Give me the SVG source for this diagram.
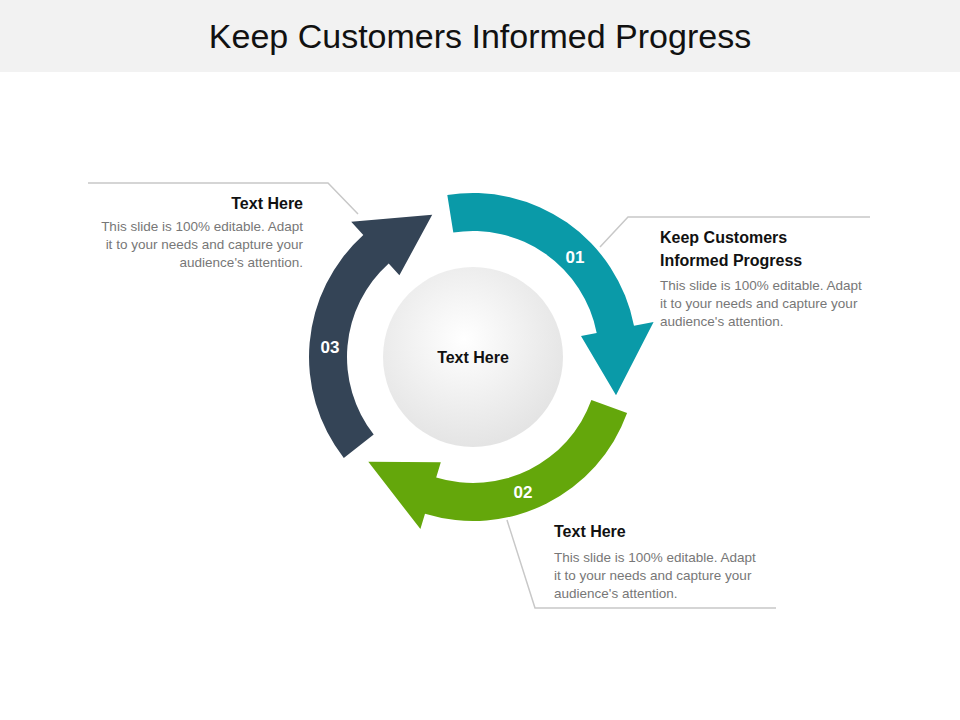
<svg xmlns="http://www.w3.org/2000/svg" width="960" height="720" viewBox="0 0 960 720">
<defs>
<radialGradient id="cg" cx="0.45" cy="0.4" r="0.6"><stop offset="0" stop-color="#ffffff"/><stop offset="1" stop-color="#e4e4e4"/></radialGradient>
<style>
.h{font-family:"Liberation Sans",Arial,sans-serif;font-weight:bold;font-size:16px;fill:#111}
.b{font-family:"Liberation Sans",Arial,sans-serif;font-size:13.5px;fill:#777}
.n{font-family:"Liberation Sans",Arial,sans-serif;font-weight:bold;font-size:17px;fill:#fff;text-anchor:middle}
.ln{fill:none;stroke:#c8c8c8;stroke-width:1.5}
</style>
</defs>
<rect width="960" height="720" fill="#fff"/>
<rect width="960" height="72" fill="#f2f2f2"/>
<text x="480" y="48" text-anchor="middle" font-family="Liberation Sans,Arial,sans-serif" font-size="34" fill="#111">Keep Customers Informed Progress</text>
<g id="connectors">
<polyline class="ln" points="88,183 328,183 358,214"/>
<polyline class="ln" points="600,247 628,217 870,217"/>
<polyline class="ln" points="507,520 535,608 776,608"/>
</g>
<g id="center">
<circle cx="473" cy="357" r="90" fill="url(#cg)"/>
<text x="473" y="363" text-anchor="middle" class="h">Text Here</text>
</g>
<g id="arrow01">
<path d="M447.3,195 A164,164 0 0 1 634,325.7 L653.6,321.9 L616,395.3 L581,336 L596.7,333 A126,126 0 0 0 453.3,232.5 Z" fill="#0a9aa8"/>
<text x="575" y="263" class="n">01</text>
</g>
<g id="arrow02">
<path d="M627.1,413.1 A164,164 0 0 1 425,513.8 L420.4,529.1 L368.3,461.7 L440.8,462.2 L436.2,477.5 A126,126 0 0 0 591.4,400.1 Z" fill="#64a70b"/>
<text x="523" y="498" class="n">02</text>
</g>
<g id="arrow03">
<path d="M343.8,458 A164,164 0 0 1 363.3,235.1 L351.2,221.8 L432.2,214.7 L399.4,275.3 L388.7,263.4 A126,126 0 0 0 373.7,434.6 Z" fill="#344456"/>
<text x="330" y="353" class="n">03</text>
</g>
<g id="label03" text-anchor="end">
<text x="303" y="209" class="h">Text Here</text>
<text x="303" y="231" class="b">This slide is 100% editable. Adapt</text>
<text x="303" y="249" class="b">it to your needs and capture your</text>
<text x="303" y="267" class="b">audience's attention.</text>
</g>
<g id="label01">
<text x="660" y="243" class="h">Keep Customers</text>
<text x="660" y="266" class="h">Informed Progress</text>
<text x="660" y="290" class="b">This slide is 100% editable. Adapt</text>
<text x="660" y="308" class="b">it to your needs and capture your</text>
<text x="660" y="326" class="b">audience's attention.</text>
</g>
<g id="label02">
<text x="554" y="537" class="h">Text Here</text>
<text x="554" y="562" class="b">This slide is 100% editable. Adapt</text>
<text x="554" y="580" class="b">it to your needs and capture your</text>
<text x="554" y="598" class="b">audience's attention.</text>
</g>
</svg>
